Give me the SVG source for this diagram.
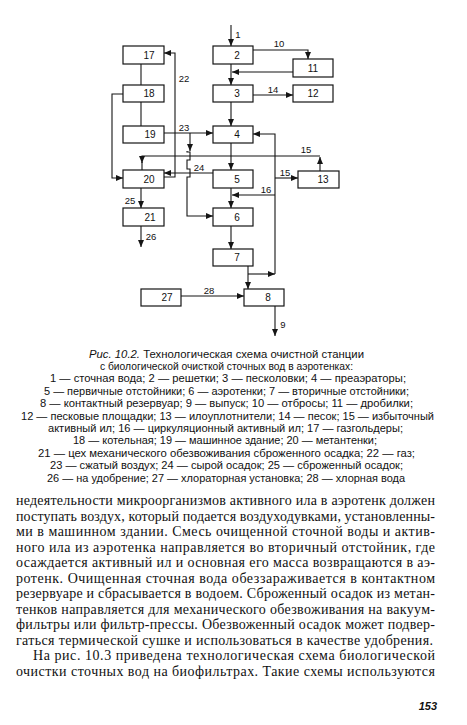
<svg xmlns="http://www.w3.org/2000/svg" width="467" height="725" viewBox="0 0 467 725">
<defs>
<marker id="ah" markerUnits="userSpaceOnUse" markerWidth="7" markerHeight="6" refX="7" refY="3" orient="auto">
<path d="M0,0 L7,3 L0,6 z" fill="#151515"/>
</marker>
<style>
.bx{fill:#fff;stroke:#151515;stroke-width:1.2}
.ln{fill:none;stroke:#151515;stroke-width:1.1}
.a{marker-end:url(#ah)}
.nl{font-family:"Liberation Sans",Arial,sans-serif;font-size:10px;fill:#111;text-anchor:middle}
.cl{font-family:"Liberation Sans",Arial,sans-serif;font-size:9.5px;fill:#111;text-anchor:middle}
.cap{font-family:"Liberation Sans",Arial,sans-serif;font-size:10.5px;fill:#111}
.body{font-family:"Liberation Serif","Times New Roman",serif;font-size:14px;fill:#111}
.pg{font-family:"Liberation Sans",Arial,sans-serif;font-size:11px;font-weight:bold;font-style:italic;fill:#111;text-anchor:end}
</style>
</defs>
<rect width="467" height="725" fill="#fff"/>
<g id="connectors">
<path class="ln a" d="M231,25 V46"/>
<path class="ln a" d="M231,64 V85"/>
<path class="ln a" d="M253,50 H308 V59"/>
<path class="ln a" d="M293,72 H232"/>
<path class="ln a" d="M253,95 H293"/>
<path class="ln a" d="M231,102 V126"/>
<path class="ln" d="M141,64 V85"/>
<path class="ln" d="M141,102 V126"/>
<path class="ln a" d="M123,94 H112 V178 H123"/>
<path class="ln a" d="M164,133 H213"/>
<path class="ln a" d="M190,133 V151"/>
<path class="ln a" d="M187,151 V152 H190 V160 H187 V169 H190 V177 H187 V216 H213"/>
<path class="ln a" d="M164,177 H175 V53 H164"/>
<path class="ln a" d="M213,173 H164"/>
<path class="ln a" d="M320,171 V157"/>
<path class="ln a" d="M320,156 H142 V163"/>
<path class="ln" d="M142,162 V170"/>
<path class="ln a" d="M275,178 H298"/>
<path class="ln a" d="M275,274 V134 H253"/>
<path class="ln a" d="M275,195 H232"/>
<path class="ln a" d="M248,274 H275"/>
<path class="ln a" d="M231,143 V170"/>
<path class="ln a" d="M231,188 V208"/>
<path class="ln a" d="M231,226 V249"/>
<path class="ln a" d="M248,266 V289"/>
<path class="ln a" d="M181,296 H244"/>
<path class="ln a" d="M275,306 V336"/>
<path class="ln a" d="M141,188 V208"/>
<path class="ln a" d="M141,226 V247"/>
<text class="cl" x="238" y="37.5">1</text>
<text class="cl" x="279" y="46.5">10</text>
<text class="cl" x="273" y="92.5">14</text>
<text class="cl" x="184" y="81.5">22</text>
<text class="cl" x="184" y="130.5">23</text>
<text class="cl" x="199" y="171">24</text>
<text class="cl" x="306" y="152.5">15</text>
<text class="cl" x="285" y="175.5">15</text>
<text class="cl" x="266" y="192.5">16</text>
<text class="cl" x="130" y="203.5">25</text>
<text class="cl" x="151" y="239.5">26</text>
<text class="cl" x="209" y="293.5">28</text>
<text class="cl" x="283" y="327.5">9</text>
</g>
<g id="n17"><rect class="bx" x="123" y="46" width="41" height="18"/><text class="nl" x="149" y="58.6">17</text></g>
<g id="n18"><rect class="bx" x="123" y="85" width="41" height="17"/><text class="nl" x="149" y="97.1">18</text></g>
<g id="n19"><rect class="bx" x="123" y="126" width="41" height="17"/><text class="nl" x="150" y="138.1">19</text></g>
<g id="n20"><rect class="bx" x="123" y="170" width="41" height="18"/><text class="nl" x="149" y="182.6">20</text></g>
<g id="n21"><rect class="bx" x="123" y="208" width="41" height="18"/><text class="nl" x="150" y="220.6">21</text></g>
<g id="n2"><rect class="bx" x="213" y="46" width="40" height="18"/><text class="nl" x="237" y="58.6">2</text></g>
<g id="n3"><rect class="bx" x="213" y="85" width="40" height="17"/><text class="nl" x="237" y="97.1">3</text></g>
<g id="n4"><rect class="bx" x="213" y="126" width="40" height="17"/><text class="nl" x="237" y="138.1">4</text></g>
<g id="n5"><rect class="bx" x="213" y="170" width="40" height="18"/><text class="nl" x="237" y="182.6">5</text></g>
<g id="n6"><rect class="bx" x="213" y="208" width="40" height="18"/><text class="nl" x="237" y="220.6">6</text></g>
<g id="n7"><rect class="bx" x="213" y="249" width="40" height="17"/><text class="nl" x="237" y="261.1">7</text></g>
<g id="n8"><rect class="bx" x="244" y="289" width="40" height="17"/><text class="nl" x="268" y="301.1">8</text></g>
<g id="n11"><rect class="bx" x="293" y="59" width="40" height="18"/><text class="nl" x="313" y="71.6">11</text></g>
<g id="n12"><rect class="bx" x="293" y="85" width="40" height="17"/><text class="nl" x="313" y="97.1">12</text></g>
<g id="n13"><rect class="bx" x="298" y="171" width="41" height="17"/><text class="nl" x="323" y="183.1">13</text></g>
<g id="n27"><rect class="bx" x="141" y="289" width="40" height="17"/><text class="nl" x="167" y="301.1">27</text></g>
<g id="caption">
<text class="cap" x="89" y="357.5" textLength="275" lengthAdjust="spacingAndGlyphs"><tspan font-style="italic">Рис. 10.2.</tspan> Технологическая схема очистной станции</text>
<text class="cap" x="100" y="369.9" textLength="253" lengthAdjust="spacingAndGlyphs">с биологической очисткой сточных вод в аэротенках:</text>
<text class="cap" x="50" y="382.3" textLength="356" lengthAdjust="spacingAndGlyphs">1 — сточная вода; 2 — решетки; 3 — песколовки; 4 — преаэраторы;</text>
<text class="cap" x="44" y="394.7" textLength="365" lengthAdjust="spacingAndGlyphs">5 — первичные отстойники; 6 — аэротенки; 7 — вторичные отстойники;</text>
<text class="cap" x="40" y="407.1" textLength="373" lengthAdjust="spacingAndGlyphs">8 — контактный резервуар; 9 — выпуск; 10 — отбросы; 11 — дробилки;</text>
<text class="cap" x="21" y="419.5" textLength="413" lengthAdjust="spacingAndGlyphs">12 — песковые площадки; 13 — илоуплотнители; 14 — песок; 15 — избыточный</text>
<text class="cap" x="48" y="431.9" textLength="355" lengthAdjust="spacingAndGlyphs">активный ил; 16 — циркуляционный активный ил; 17 — газгольдеры;</text>
<text class="cap" x="73" y="444.3" textLength="304" lengthAdjust="spacingAndGlyphs">18 — котельная; 19 — машинное здание; 20 — метантенки;</text>
<text class="cap" x="38" y="456.7" textLength="377" lengthAdjust="spacingAndGlyphs">21 — цех механического обезвоживания сброженного осадка; 22 — газ;</text>
<text class="cap" x="50" y="469.1" textLength="353" lengthAdjust="spacingAndGlyphs">23 — сжатый воздух; 24 — сырой осадок; 25 — сброженный осадок;</text>
<text class="cap" x="47" y="481.5" textLength="358" lengthAdjust="spacingAndGlyphs">26 — на удобрение; 27 — хлораторная установка; 28 — хлорная вода</text>
</g>
<g id="body">
<text class="body" x="16" y="505" textLength="419" lengthAdjust="spacing">недеятельности микроорганизмов активного ила в аэротенк должен</text>
<text class="body" x="16" y="520.5" textLength="419" lengthAdjust="spacing">поступать воздух, который подается воздуходувками, установленны-</text>
<text class="body" x="16" y="536" textLength="419" lengthAdjust="spacing">ми в машинном здании. Смесь очищенной сточной воды и актив-</text>
<text class="body" x="16" y="551.5" textLength="419" lengthAdjust="spacing">ного ила из аэротенка направляется во вторичный отстойник, где</text>
<text class="body" x="16" y="567" textLength="419" lengthAdjust="spacing">осаждается активный ил и основная его масса возвращаются в аэ-</text>
<text class="body" x="16" y="582.5" textLength="419" lengthAdjust="spacing">ротенк. Очищенная сточная вода обеззараживается в контактном</text>
<text class="body" x="16" y="598" textLength="419" lengthAdjust="spacing">резервуаре и сбрасывается в водоем. Сброженный осадок из метан-</text>
<text class="body" x="16" y="613.5" textLength="419" lengthAdjust="spacing">тенков направляется для механического обезвоживания на вакуум-</text>
<text class="body" x="16" y="629" textLength="419" lengthAdjust="spacing">фильтры или фильтр-прессы. Обезвоженный осадок может подвер-</text>
<text class="body" x="16" y="644.5" textLength="417" lengthAdjust="spacing">гаться термической сушке и использоваться в качестве удобрения.</text>
<text class="body" x="33" y="660" textLength="402" lengthAdjust="spacing">На рис. 10.3 приведена технологическая схема биологической</text>
<text class="body" x="16" y="675.5" textLength="419" lengthAdjust="spacing">очистки сточных вод на биофильтрах. Такие схемы используются</text>
<text class="pg" x="437" y="710">153</text>
</g>
</svg>
